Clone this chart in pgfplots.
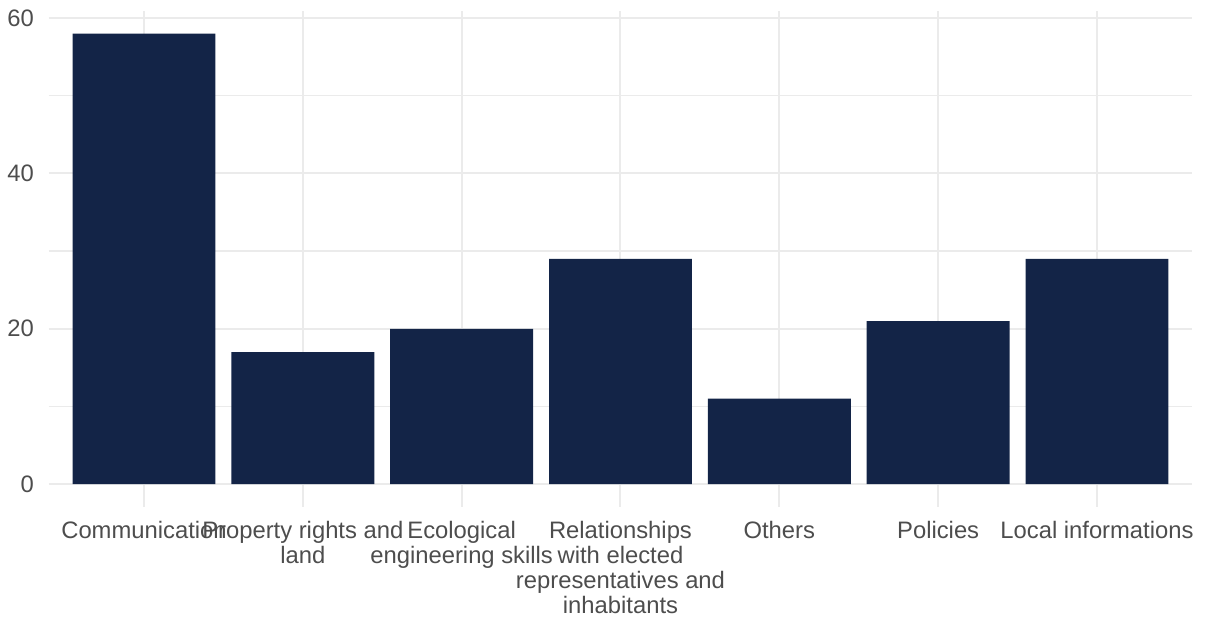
\documentclass[border=0pt]{standalone}
\usepackage{pgfplots}
\pgfplotsset{compat=1.18}
\usepackage{fontspec}
\setmainfont{Liberation Sans}
\definecolor{barcol}{RGB}{19,36,71}
\definecolor{txtcol}{HTML}{4D4D4D}
\definecolor{gridcol}{HTML}{EBEBEB}
\begin{document}
\begin{tikzpicture}
\path[use as bounding box] (0,0) rectangle (1205pt,618pt);
\begin{axis}[
  at={(48.7pt,111.3pt)}, anchor=south west,
  scale only axis, width=1143.6pt, height=495.7pt,
  xmin=0.4, xmax=7.6, ymin=-2.9, ymax=60.9,
  axis line style={draw=none},
  major tick length=0pt, minor tick length=0pt,
  tick style={draw=none},
  xtick={1,2,3,4,5,6,7},
  xticklabels={Communication,{Property rights and\\land},{Ecological\\engineering skills},{Relationships\\with elected\\representatives and\\inhabitants},Others,Policies,Local informations},
  ytick={0,20,40,60},
  yticklabels={0,20,40,60},
  minor ytick={10,30,50},
  xmajorgrids, ymajorgrids, yminorgrids,
  major grid style={draw=gridcol, line width=2pt},
  minor grid style={draw=gridcol, line width=1.2pt},
  xticklabel style={anchor=north, inner sep=0pt, yshift=-14.6pt, align=center, text=txtcol, font=\fontsize{23.8}{24.8}\selectfont},
  yticklabel style={anchor=east, inner sep=0pt, xshift=-14.7pt, text=txtcol, font=\fontsize{23.8}{24.8}\selectfont},
  ybar, bar width=0.9,
]
\addplot[fill=barcol, draw=none] coordinates {(1,58) (2,17) (3,20) (4,29) (5,11) (6,21) (7,29)};
\end{axis}
\end{tikzpicture}
\end{document}
